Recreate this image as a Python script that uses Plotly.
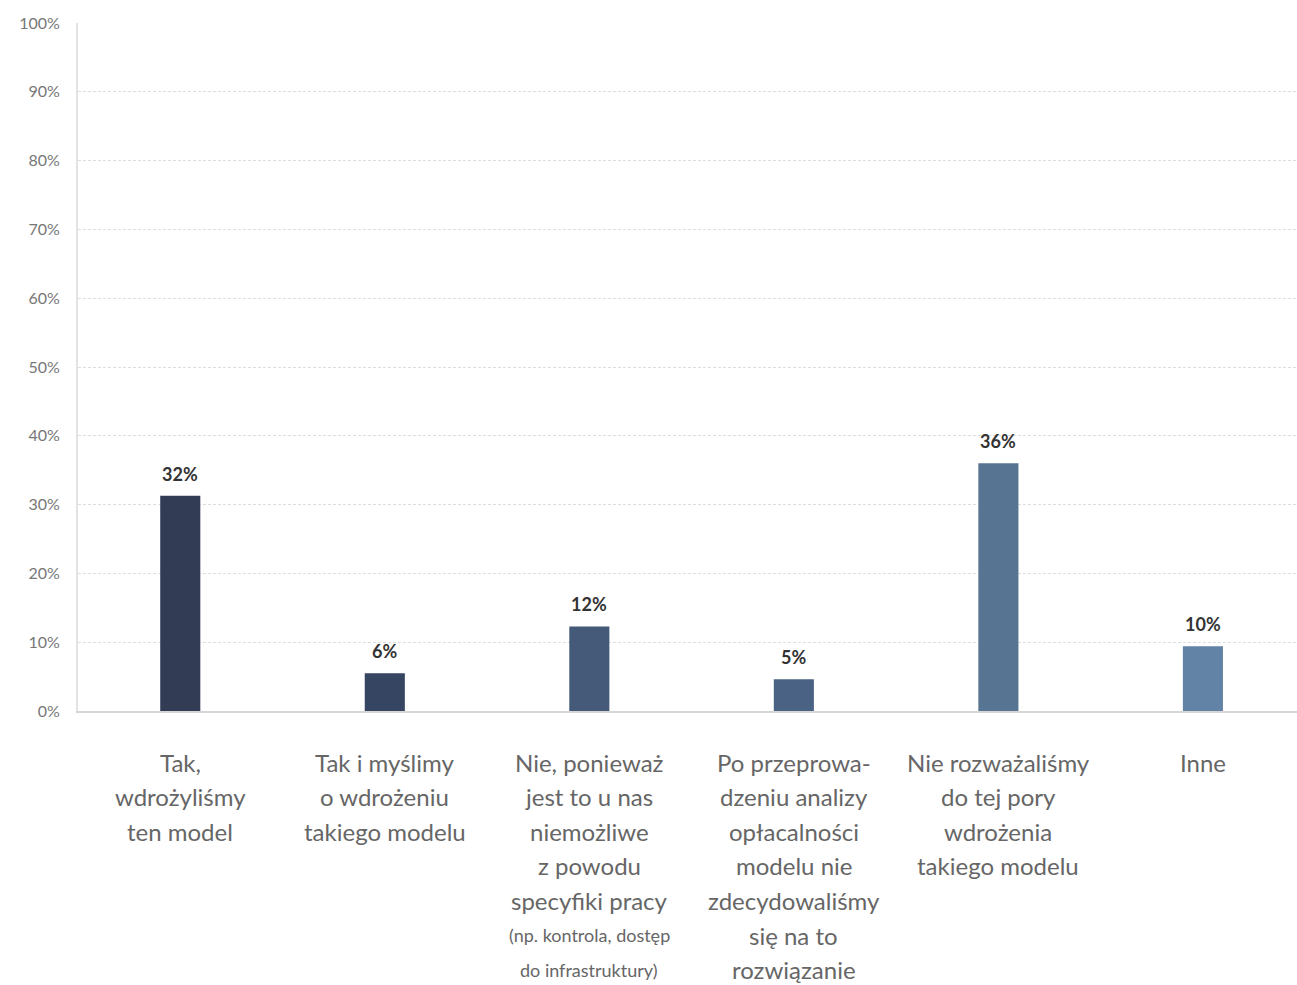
import plotly.graph_objects as go

categories = ["Tak, wdrożyliśmy ten model",
              "Tak i myślimy o wdrożeniu takiego modelu",
              "Nie, ponieważ jest to u nas niemożliwe",
              "Po przeprowadzeniu analizy opłacalności",
              "Nie rozważaliśmy do tej pory",
              "Inne"]
values = [31.3, 5.5, 12.3, 4.6, 36.0, 9.4]
value_labels = ["32%", "6%", "12%", "5%", "36%", "10%"]
bar_colors = ["#323c55", "#364562", "#455a78", "#4a6384", "#577592", "#6282a6"]

label_lines = [
    ["Tak,", "wdrożyliśmy", "ten model"],
    ["Tak i myślimy", "o wdrożeniu", "takiego modelu"],
    ["Nie, ponieważ", "jest to u nas", "niemożliwe", "z powodu", "specyfiki pracy"],
    ["Po przeprowa-", "dzeniu analizy", "opłacalności", "modelu nie", "zdecydowaliśmy", "się na to", "rozwiązanie"],
    ["Nie rozważaliśmy", "do tej pory", "wdrożenia", "takiego modelu"],
    ["Inne"],
]
small_lines = [[], [], ["(np. kontrola, dostęp", "do infrastruktury)"], [], [], []]

tick_vals = list(range(0, 101, 10))
tick_text = [f"{v}%" for v in tick_vals]

FONT = "Lato"

fig = go.Figure()
fig.add_trace(go.Bar(
    x=categories, y=values, marker=dict(color=bar_colors, line=dict(width=0)),
    width=0.196, hoverinfo="skip"))

annotations = []
for c, v, t in zip(categories, values, value_labels):
    annotations.append(dict(x=c, y=v, xref="x", yref="y", text=f"<b>{t}</b>",
                            showarrow=False, yanchor="bottom", yshift=9,
                            font=dict(family=FONT, size=18, color="#333333")))

line_h = 34.6
first = 51
for c, lines, smalls in zip(categories, label_lines, small_lines):
    i = 0
    for ln in lines:
        annotations.append(dict(x=c, y=0, xref="x", yref="paper", text=ln,
                                showarrow=False, yanchor="middle",
                                yshift=-(first + i * line_h),
                                font=dict(family=FONT, size=24, color="#666666")))
        i += 1
    for ln in smalls:
        annotations.append(dict(x=c, y=0, xref="x", yref="paper", text=ln,
                                showarrow=False, yanchor="middle",
                                yshift=-(first + i * line_h),
                                font=dict(family=FONT, size=18, color="#666666")))
        i += 1

fig.update_layout(
    width=1297, height=985,
    margin=dict(l=78, r=0, t=23, b=274),
    plot_bgcolor="white", paper_bgcolor="white",
    showlegend=False,
    annotations=annotations,
    font=dict(family=FONT),
    xaxis=dict(showticklabels=False, showgrid=False, showline=True,
               range=[-0.5, 5.46],
               linecolor="#d6d6d6", linewidth=2, ticks="", zeroline=False),
    yaxis=dict(range=[0, 100], tickvals=tick_vals, ticktext=tick_text,
               showgrid=True, gridcolor="#dedede", griddash="3px,2px", gridwidth=1,
               showline=True, linecolor="#e3e3e3", linewidth=2, zeroline=False,
               ticks="", ticklabelstandoff=13,
               tickfont=dict(family=FONT, size=16, color="#777777")),
)

fig.write_html("out.html")
